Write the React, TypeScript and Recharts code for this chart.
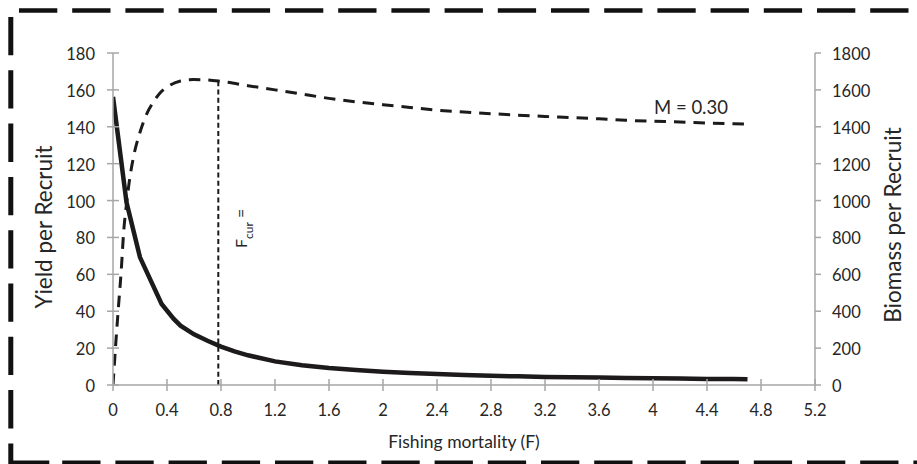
import React from 'react';
import { LineChart, Line, XAxis, YAxis, ReferenceLine } from 'recharts';

const fTicks = [0, 0.4, 0.8, 1.2, 1.6, 2, 2.4, 2.8, 3.2, 3.6, 4, 4.4, 4.8, 5.2];
const yieldTicks = [0, 20, 40, 60, 80, 100, 120, 140, 160, 180];
const biomassTicks = [0, 200, 400, 600, 800, 1000, 1200, 1400, 1600, 1800];

// Yield per recruit (dashed, left axis)
const yieldF = [0, 0.02, 0.04, 0.06, 0.08, 0.1, 0.12, 0.15, 0.2, 0.25, 0.3, 0.35, 0.4, 0.5, 0.6, 0.7, 0.8, 1.0, 1.2, 1.4, 1.6, 1.8, 2.0, 2.2, 2.4, 2.6, 2.8, 3.0, 3.2, 3.4, 3.6, 3.8, 4.0, 4.2, 4.4, 4.6, 4.7];
const yieldVals = [0, 22, 42, 61, 84, 98, 110, 123, 137, 147, 153.5, 158.5, 161.5, 164.8, 165.6, 165.4, 164.6, 162.3, 160, 157.7, 155.4, 153.5, 152, 150.5, 149, 148, 147.1, 146.3, 145.6, 145, 144.3, 143.5, 143, 142.6, 142, 141.6, 141.4];

// Biomass per recruit (solid, right axis)
const biomassF = [0, 0.1, 0.2, 0.36, 0.45, 0.5, 0.6, 0.7, 0.8, 0.9, 1.0, 1.2, 1.4, 1.6, 1.8, 2.0, 2.2, 2.4, 2.6, 2.8, 3.0, 3.2, 3.4, 3.6, 3.8, 4.0, 4.2, 4.4, 4.6, 4.7];
const biomassVals = [1562, 990, 692, 439, 358, 322, 275, 240, 208, 182, 161, 128, 107, 92, 81, 72, 65, 59, 54, 50, 47, 44, 42, 40, 38, 36, 35, 33, 32, 31];

const fCur = 0.78;
const fCurYield = 164.8;

const yieldData = yieldF.map((f, i) => ({ F: f, ypr: yieldVals[i] }));
const biomassData = biomassF.map((f, i) => ({ F: f, bpr: biomassVals[i] }));

const AXIS = '#a6a6a6';
const TEXT = '#262626';
const FONT = 'Lato, "Open Sans", sans-serif';
const INK = '#1c1a1a';

const LeftTick = (p: any) => {
  const { x, y, payload } = p;
  return (
    <g>
      <line x1={x - 6} x2={x + 6} y1={y} y2={y} stroke={AXIS} strokeWidth={1.5} />
      <text x={x - 18} y={y + 1} textAnchor="end" dominantBaseline="central" fill={TEXT} fontSize={16.5} fontFamily={FONT}>
        {payload.value}
      </text>
    </g>
  );
};

const RightTick = (p: any) => {
  const { x, y, payload } = p;
  return (
    <g>
      <line x1={x} x2={x + 6} y1={y} y2={y} stroke={AXIS} strokeWidth={1.5} />
      <text x={x + 17} y={y + 1} textAnchor="start" dominantBaseline="central" fill={TEXT} fontSize={16.5} fontFamily={FONT}>
        {payload.value}
      </text>
    </g>
  );
};

const BottomTick = (p: any) => {
  const { x, y, payload } = p;
  return (
    <g>
      <line x1={x} x2={x} y1={y - 6} y2={y + 6} stroke={AXIS} strokeWidth={1.5} />
      <text x={x} y={y + 25} textAnchor="middle" dominantBaseline="central" fill={TEXT} fontSize={16.5} fontFamily={FONT}>
        {payload.value}
      </text>
    </g>
  );
};

const FcurLabel = (props: any) => {
  const vb = props.viewBox || {};
  const x = (vb.x ?? 218) + 29;
  const y = 248;
  return (
    <text x={x} y={y} transform={`rotate(-90 ${x} ${y})`} fill={TEXT} fontSize={16} fontFamily={FONT}>
      F
      <tspan fontSize={12} dy={6}>cur</tspan>
      <tspan dy={-6}> =</tspan>
    </text>
  );
};

const Border = () => (
  <svg width={917} height={464} style={{ position: 'absolute', left: 0, top: 0 }}>
    <line x1={19} x2={917} y1={10.5} y2={10.5} stroke="#111" strokeWidth={4.5} strokeDasharray="38.3 14.9" />
    <line x1={10.8} x2={10.8} y1={17} y2={464} stroke="#111" strokeWidth={5} strokeDasharray="38.3 15" />
    <line x1={9} x2={917} y1={462.7} y2={462.7} stroke="#111" strokeWidth={4.5} strokeDasharray="40.3 12.9 38.3 14.9 38.3 14.9 38.3 14.9 38.3 14.9 38.3 14.9 38.3 14.9 38.3 14.9 38.3 14.9 38.3 14.9 38.3 14.9 38.3 14.9 38.3 14.9 38.3 14.9 38.3 14.9 38.3 14.9 38.3 14.9" />
  </svg>
);

export default function App() {
  return (
    <div style={{ position: 'absolute', left: 0, top: 0, width: 917, height: 464, background: '#fff', overflow: 'hidden' }}>
      <Border />
      <div style={{ position: 'absolute', left: 0, top: 0 }}>
        <LineChart width={917} height={464} margin={{ top: 53, right: 0, bottom: 0, left: 0 }}>
          <XAxis
            dataKey="F"
            type="number"
            domain={[0, 5.2]}
            ticks={fTicks}
            allowDataOverflow
            height={79}
            stroke={AXIS}
            axisLine={{ stroke: AXIS, strokeWidth: 1.5 }}
            tickLine={false}
            tickSize={0}
            tickMargin={0}
            tick={<BottomTick />}
            interval={0}
          />
          <YAxis
            yAxisId="left"
            orientation="left"
            width={113}
            domain={[0, 180]}
            ticks={yieldTicks}
            allowDataOverflow
            axisLine={{ stroke: AXIS, strokeWidth: 1.5 }}
            tickLine={false}
            tickSize={0}
            tickMargin={0}
            tick={<LeftTick />}
            interval={0}
          />
          <YAxis
            yAxisId="right"
            orientation="right"
            width={102}
            domain={[0, 1800]}
            ticks={biomassTicks}
            allowDataOverflow
            axisLine={{ stroke: AXIS, strokeWidth: 1.5 }}
            tickLine={false}
            tickSize={0}
            tickMargin={0}
            tick={<RightTick />}
            interval={0}
          />
          <ReferenceLine
            yAxisId="left"
            segment={[{ x: fCur, y: 0 }, { x: fCur, y: fCurYield }]}
            stroke={INK}
            strokeWidth={2}
            strokeDasharray="5 3.3"
            label={FcurLabel}
            ifOverflow="extendDomain"
          />
          <Line
            data={biomassData}
            dataKey="bpr"
            yAxisId="right"
            type="linear"
            stroke={INK}
            strokeWidth={4.5}
            dot={false}
            activeDot={false}
            isAnimationActive={false}
          />
          <Line
            data={yieldData}
            dataKey="ypr"
            yAxisId="left"
            type="monotone"
            stroke={INK}
            strokeWidth={3}
            strokeDasharray="11.5 8"
            dot={false}
            activeDot={false}
            isAnimationActive={false}
          />
        </LineChart>
      </div>
      <svg width={917} height={464} style={{ position: 'absolute', left: 0, top: 0, pointerEvents: 'none' }}>
        <text x={43} y={227} transform="rotate(-90 43 227)" textAnchor="middle" dominantBaseline="central" fill={TEXT} fontSize={22.5} fontFamily={FONT}>
          Yield per Recruit
        </text>
        <text x={892} y={225} transform="rotate(-90 892 225)" textAnchor="middle" dominantBaseline="central" fill={TEXT} fontSize={22.5} fontFamily={FONT}>
          Biomass per Recruit
        </text>
        <text x={464} y={441} textAnchor="middle" dominantBaseline="central" fill={TEXT} fontSize={17.5} fontFamily={FONT}>
          Fishing mortality (F)
        </text>
        <text x={654} y={114} textAnchor="start" fill={TEXT} fontSize={18.5} fontFamily={FONT}>
          M = 0.30
        </text>
      </svg>
    </div>
  );
}
